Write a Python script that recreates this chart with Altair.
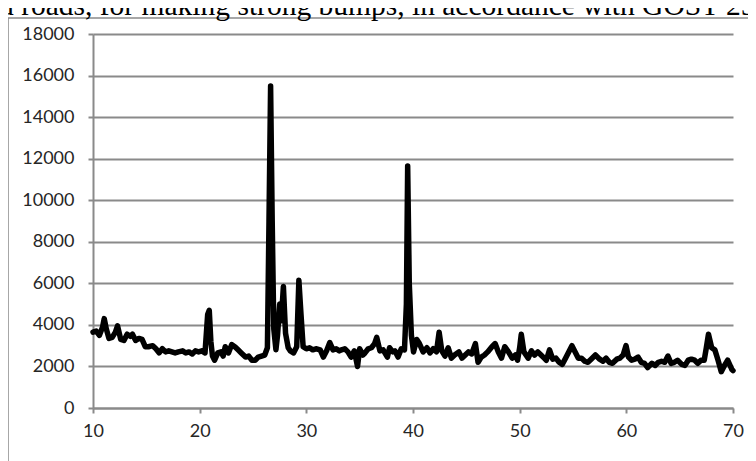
import altair as alt
import pandas as pd

two_theta = [
    10.0, 10.3, 10.6, 10.9, 11.05, 11.25, 11.5, 11.8, 12.1, 12.3, 12.6, 12.9, 13.2, 13.5, 13.7,
    14.0, 14.3, 14.6, 14.9, 15.2, 15.6, 15.9, 16.2, 16.5, 16.8, 17.1, 17.4, 17.7, 18.0, 18.4,
    18.7, 19.0, 19.3, 19.6, 19.9, 20.2, 20.5, 20.75, 20.9, 21.05, 21.2, 21.4, 21.7, 22.0, 22.2,
    22.4, 22.7, 23.0, 23.3, 23.6, 23.9, 24.3, 24.6, 24.9, 25.2, 25.5, 25.8, 26.1, 26.35, 26.5,
    26.65, 26.8, 26.95, 27.15, 27.3, 27.5, 27.65, 27.85, 28.05, 28.3, 28.5, 28.8, 29.1, 29.3,
    29.5, 29.7, 30.0, 30.3, 30.6, 30.9, 31.3, 31.6, 31.9, 32.2, 32.5, 32.8, 33.1, 33.3, 33.6,
    33.9, 34.2, 34.5, 34.8, 35.0, 35.3, 35.5, 35.8, 36.1, 36.4, 36.6, 36.9, 37.2, 37.6, 37.8,
    38.1, 38.3, 38.6, 38.9, 39.2, 39.38, 39.5, 39.65, 39.85, 40.05, 40.35, 40.6, 40.95, 41.3,
    41.6, 41.9, 42.2, 42.45, 42.7, 43.0, 43.3, 43.6, 43.9, 44.3, 44.6, 44.9, 45.2, 45.5, 45.85,
    46.1, 46.4, 46.7, 47.0, 47.4, 47.7, 48.0, 48.3, 48.6, 48.95, 49.3, 49.6, 49.8, 50.0, 50.15,
    50.4, 50.8, 51.1, 51.4, 51.7, 52.0, 52.3, 52.5, 52.8, 53.1, 53.4, 53.7, 54.0, 54.3, 54.6,
    54.9, 55.2, 55.5, 55.8, 56.1, 56.4, 56.7, 57.1, 57.5, 57.8, 58.1, 58.4, 58.7, 59.1, 59.4,
    59.7, 59.97, 60.2, 60.5, 60.8, 61.1, 61.4, 61.7, 62.0, 62.4, 62.7, 63.0, 63.3, 63.6, 63.9,
    64.2, 64.5, 64.8, 65.2, 65.5, 65.8, 66.1, 66.4, 66.7, 67.0, 67.3, 67.5, 67.7, 68.0, 68.3,
    68.6, 68.9, 69.2, 69.5, 69.9, 70.0,
]
intensity = [
    3650, 3700, 3500, 3900, 4300, 3800, 3350, 3400, 3650, 3950, 3300, 3250, 3550, 3450, 3550,
    3250, 3350, 3300, 2950, 2950, 3000, 2850, 2650, 2850, 2700, 2750, 2700, 2650, 2700, 2750,
    2650, 2700, 2600, 2750, 2700, 2750, 2650, 4500, 4700, 3200, 2500, 2300, 2650, 2700, 2500,
    2950, 2650, 3050, 2950, 2800, 2650, 2450, 2500, 2300, 2300, 2450, 2500, 2550, 2900, 9000,
    15500, 9000, 3800, 2800, 3500, 5000, 4200, 5850, 3600, 2900, 2750, 2650, 2950, 6150,
    4500, 2950, 2850, 2900, 2800, 2850, 2800, 2450, 2750, 3150, 2800, 2850, 2750, 2800, 2850,
    2700, 2450, 2750, 2000, 2850, 2550, 2650, 2850, 2900, 3100, 3400, 2750, 2800, 2450, 2900,
    2700, 2750, 2450, 2850, 2800, 5000, 11650, 6000, 3500, 2700, 3300, 3100, 2700, 2900,
    2650, 2850, 2700, 3650, 2750, 2500, 2900, 2400, 2550, 2700, 2400, 2550, 2700, 2600, 3100,
    2200, 2450, 2550, 2700, 2950, 3100, 2700, 2400, 2950, 2700, 2400, 2550, 2300, 2900, 3550,
    2700, 2400, 2750, 2550, 2700, 2550, 2400, 2300, 2800, 2350, 2400, 2200, 2100, 2400, 2700,
    3000, 2700, 2400, 2400, 2250, 2200, 2350, 2550, 2350, 2250, 2400, 2200, 2150, 2350, 2400,
    2550, 3000, 2450, 2300, 2350, 2450, 2200, 2150, 1950, 2150, 2050, 2200, 2250, 2200, 2500,
    2150, 2200, 2300, 2100, 2050, 2300, 2350, 2300, 2150, 2300, 2300, 2900, 3550, 2900, 2800,
    2300, 1750, 2050, 2300, 1850, 1800,
]
caption_text = ["d roads, for making strong bumps, in accordance with GOST 25"]
x_ticks = [10, 20, 30, 40, 50, 60, 70]
y_ticks = [0, 2000, 4000, 6000, 8000, 10000, 12000, 14000, 16000, 18000]

df = pd.DataFrame({"two_theta": two_theta, "intensity": intensity})
cap_df = pd.DataFrame({"t": caption_text})
one = pd.DataFrame({"a": [0]})

GRAY = "#8a8a8a"
LABEL = "#262626"

line = alt.Chart(df).mark_line(
    color="black", strokeWidth=5.5, strokeJoin="round", strokeCap="round"
).encode(
    x=alt.X(
        "two_theta:Q",
        scale=alt.Scale(domain=[10, 70], nice=False, zero=False),
        axis=alt.Axis(
            values=x_ticks, title=None, grid=False, domainColor=GRAY, domainWidth=2,
            tickColor=GRAY, tickWidth=2, tickSize=5, labelFont="Lato", labelFontSize=18,
            labelColor=LABEL, labelPadding=9, labelFlush=False,
        ),
    ),
    y=alt.Y(
        "intensity:Q",
        scale=alt.Scale(domain=[0, 18000], nice=False),
        axis=alt.Axis(
            values=y_ticks, format="d", title=None, grid=True, gridColor=GRAY, gridWidth=2,
            domainColor=GRAY, domainWidth=2, tickColor=GRAY, tickWidth=2, tickSize=5,
            labelFont="Lato", labelFontSize=18, labelColor=LABEL, labelPadding=14,
        ),
    ),
)

frame_left = alt.Chart(one).mark_rule(color=GRAY, strokeWidth=1.5).encode(
    x=alt.value(-85), y=alt.value(-16), y2=alt.value(440)
)
frame_top = alt.Chart(one).mark_rule(color=GRAY, strokeWidth=1.5).encode(
    x=alt.value(-85), x2=alt.value(700), y=alt.value(-16)
)
caption = alt.Chart(cap_df).mark_text(
    align="left", baseline="alphabetic", font="Liberation Serif", fontSize=29.5, color="black"
).encode(x=alt.value(-94), y=alt.value(-19), text="t:N")

chart = alt.layer(line, frame_left, frame_top, caption).properties(
    width=640, height=374,
    padding={"left": 85, "top": 26, "right": 15, "bottom": 53},
    autosize=alt.AutoSizeParams(type="none"),
    background="white",
).configure_view(stroke="transparent")

chart.save("out.html", embed_options={"renderer": "svg", "actions": False})
